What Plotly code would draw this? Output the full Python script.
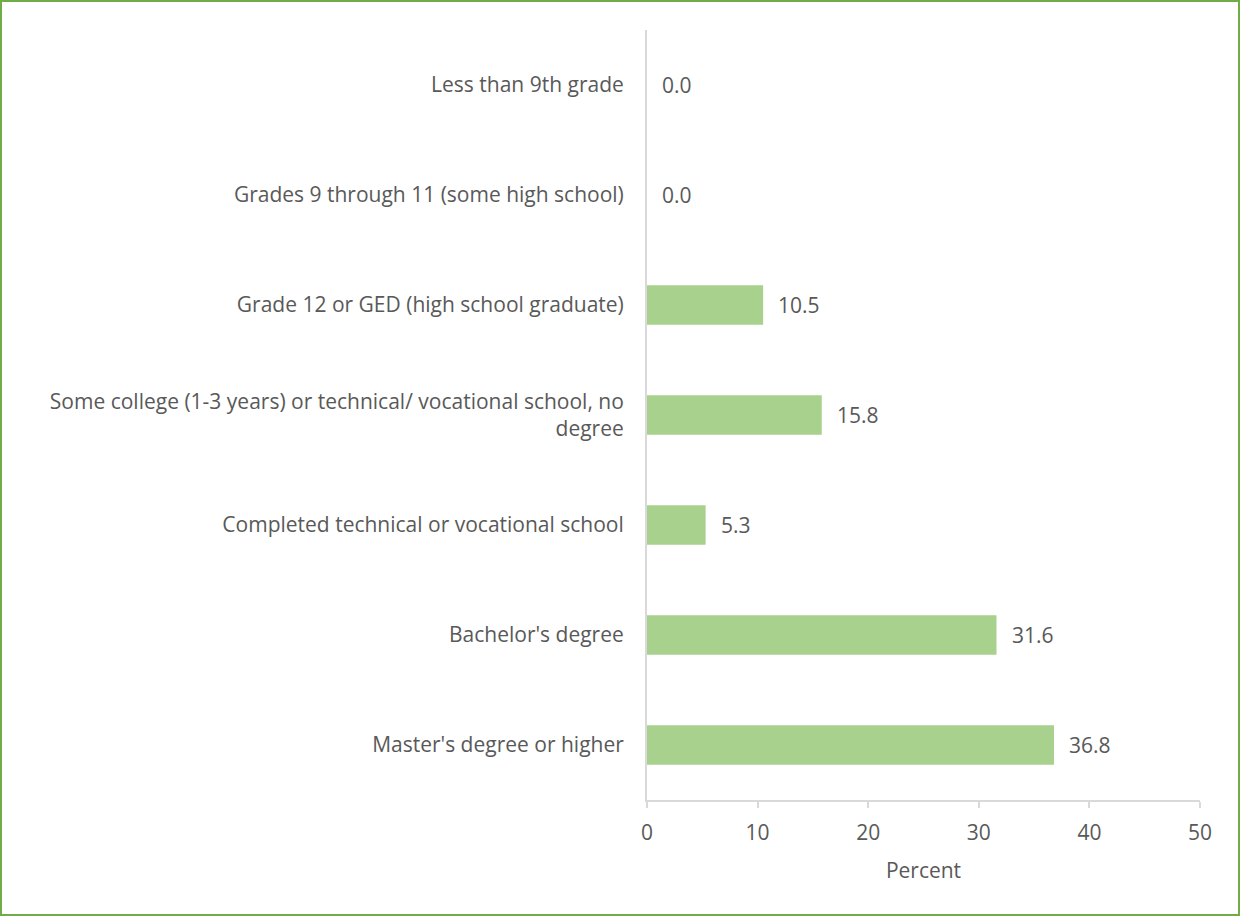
import plotly.graph_objects as go

# education levels, top to bottom
categories = [
    "Less than 9th grade",
    "Grades 9 through 11 (some high school)",
    "Grade 12 or GED (high school graduate)",
    "Some college (1-3 years) or technical/ vocational school, no<br>degree",
    "Completed technical or vocational school",
    "Bachelor's degree",
    "Master's degree or higher",
]
percent = [0.0, 0.0, 10.5, 15.8, 5.3, 31.6, 36.8]
x_ticks = [0, 10, 20, 30, 40, 50]

text_col = "#595959"
font_fam = "Open Sans, Noto Sans, sans-serif"
fsize = 21

fig = go.Figure()
fig.add_trace(go.Bar(
    x=percent, y=categories, orientation="h",
    marker=dict(color="#A9D18E", line=dict(width=0)),
    hoverinfo="x+y",
))

# value labels to the right of each bar
for cat, v in zip(categories, percent):
    fig.add_annotation(x=v, y=cat, text=f"{v:.1f}", showarrow=False,
                       xanchor="left", xshift=13,
                       font=dict(size=fsize, color=text_col, family=font_fam))

fig.update_layout(
    width=1241, height=917,
    margin=dict(l=647, r=41, t=30, b=117),
    paper_bgcolor="white", plot_bgcolor="white",
    bargap=0.64, showlegend=False,
    font=dict(family=font_fam, size=fsize, color=text_col),
)
fig.update_xaxes(range=[0, 50], tickvals=x_ticks, showgrid=False,
                 showline=True, linecolor="#D9D9D9", linewidth=2,
                 ticks="outside", tickcolor="#D9D9D9", ticklen=6, tickwidth=2,
                 ticklabelstandoff=7,
                 tickfont=dict(size=fsize, color=text_col),
                 title=dict(text="Percent", font=dict(size=fsize, color=text_col), standoff=18),
                 zeroline=False, fixedrange=True)
fig.update_yaxes(autorange="reversed", showgrid=False,
                 showline=True, linecolor="#D9D9D9", linewidth=2,
                 ticks="", ticklabelstandoff=17,
                 tickfont=dict(size=fsize, color=text_col), fixedrange=True)

# green frame around the whole chart
fig.add_shape(type="rect", xref="paper", yref="paper",
              x0=-646/553, x1=1 + 39/553, y0=-115/770, y1=1 + 29/770,
              line=dict(color="#70AD47", width=2), fillcolor="rgba(0,0,0,0)")

# no page margin so the figure sits at the window's top-left corner
fig.write_html("out.html", config={"displayModeBar": False},
               post_script="document.body.style.margin='0px';")
